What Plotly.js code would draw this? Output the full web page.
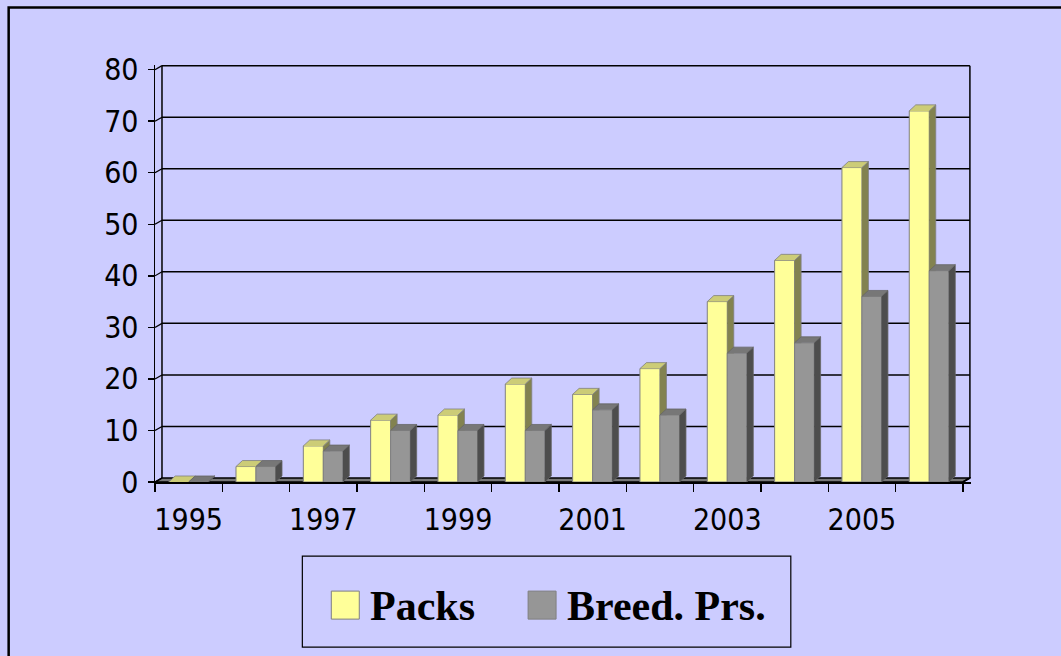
<!DOCTYPE html>
<html><head><meta charset="utf-8">
<script src="https://cdn.plot.ly/plotly-3.0.1.min.js"></script>
<style>html,body{margin:0;padding:0;background:#CCCCFF;} #chart{width:1061px;height:656px;}</style>
</head><body><div id="chart"></div>
<script>
// ---- data ----
const years = ['1995','1996','1997','1998','1999','2000','2001','2002','2003','2004','2005','2006'];
const packs = [0, 3, 7, 12, 13, 19, 17, 22, 35, 43, 61, 72];
const breedPairs = [0, 3, 6, 10, 10, 10, 14, 13, 25, 27, 36, 41];
const seriesNames = ['Packs', 'Breed. Prs.'];
const yTickVals = [0, 10, 20, 30, 40, 50, 60, 70, 80];

// ---- styling / geometry ----
const W = 1061, H = 656;
const PX_CAT = 67.4, PX_UNIT = 5.15;
const LEFT = 154.5, ZERO_Y = 482;
const xMin = -0.5, xMax = 11.62, yMin = 0, yMax = 80.9;
const PW = (xMax - xMin) * PX_CAT, PH = (yMax - yMin) * PX_UNIT;
const mL = LEFT, mR = W - LEFT - PW, mB = H - ZERO_Y, mT = ZERO_Y - PH;
const dx = 6.5 / PX_CAT, dy = 6 / PX_UNIT;      // bar depth
const bx = 7 / PX_CAT, by = 4 / PX_UNIT;        // back wall offset
const wY = 0.297, wG = 0.29;
const n = years.length;
const idx = years.map((_, i) => i);

const col = {
  yFront: '#FFFF99', yTop: '#CCCC77', ySide: '#828250',
  gFront: '#969696', gTop: '#777777', gSide: '#4D4D4D', edge: '#808080'
};

function polyTrace(polys, fill, line) {
  const x = [], y = [];
  polys.forEach(p => { p.forEach(q => { x.push(q[0]); y.push(q[1]); }); x.push(null); y.push(null); });
  return {type: 'scatter', mode: 'lines', x, y, fill: 'toself', fillcolor: fill,
          line: {color: line, width: 0.8}, hoverinfo: 'skip', showlegend: false, connectgaps: false};
}

const ySides = [], yTops = [], gSides = [], gTops = [];
for (let i = 0; i < n; i++) {
  const v = packs[i], g = breedPairs[i];
  const a0 = i - wY, a1 = i;
  const b0 = i, b1 = i + wG;
  if (v > g) {
    ySides.push([[a1, Math.max(g, 0)], [a1 + dx, Math.max(g, dy)], [a1 + dx, v + dy], [a1, v]]);
  }
  yTops.push([[a0, v], [a0 + dx, v + dy], [a1 + dx, v + dy], [a1, v]]);
  gSides.push([[b1, 0], [b1 + dx, dy], [b1 + dx, g + dy], [b1, g]]);
  gTops.push([[b0, g], [b0 + dx, g + dy], [b1 + dx, g + dy], [b1, g]]);
}

const data = [
  {type: 'bar', x: idx, y: packs, name: seriesNames[0], width: wY, offset: -wY,
   marker: {color: col.yFront, line: {color: col.edge, width: 1}}, showlegend: false},
  {type: 'bar', x: idx, y: breedPairs, name: seriesNames[1], width: wG, offset: 0,
   marker: {color: col.gFront, line: {color: col.edge, width: 1}}, showlegend: false},
  polyTrace(ySides, col.ySide, col.edge),
  polyTrace(yTops, col.yTop, col.edge),
  polyTrace(gSides, col.gSide, '#666666'),
  polyTrace(gTops, col.gTop, '#666666')
];

// ---- walls / grid ----
const shapes = [];
const L0 = -0.5, R0 = n - 0.5;
shapes.push({type: 'path', layer: 'below', xref: 'x', yref: 'y',
  path: `M${L0},0 L${R0},0 L${R0 + bx},${by} L${L0 + bx},${by} Z`,
  fillcolor: '#777777', line: {color: 'black', width: 1.5}});
yTickVals.forEach(v => {
  if (v > 0) shapes.push({type: 'line', layer: 'below', xref: 'x', yref: 'y',
    x0: L0 + bx, x1: R0 + bx, y0: v + by, y1: v + by, line: {color: 'black', width: 1.5}});
  shapes.push({type: 'line', layer: 'below', xref: 'x', yref: 'y',
    x0: L0, x1: L0 + bx, y0: v, y1: v + by, line: {color: 'black', width: 1.2}});
});
shapes.push({type: 'line', layer: 'below', xref: 'x', yref: 'y', x0: L0 + bx, x1: L0 + bx, y0: by, y1: 80 + by, line: {color: 'black', width: 1.5}});
shapes.push({type: 'line', layer: 'below', xref: 'x', yref: 'y', x0: R0 + bx, x1: R0 + bx, y0: by, y1: 80 + by, line: {color: 'black', width: 1.5}});
shapes.push({type: 'line', layer: 'below', xref: 'x', yref: 'y', x0: R0, x1: R0 + bx, y0: 0, y1: by, line: {color: 'black', width: 1.5}});

// pixel -> paper helpers (layout only)
const px = v => (v - mL) / PW;
const py = v => (mT + PH - v) / PH;

// outer border
shapes.push({type: 'rect', xref: 'paper', yref: 'paper', x0: px(8), x1: px(1075), y0: py(8), y1: py(670),
  line: {color: 'black', width: 2.5}, fillcolor: 'rgba(0,0,0,0)'});
// legend box
shapes.push({type: 'rect', xref: 'paper', yref: 'paper', x0: px(302), x1: px(791), y0: py(556), y1: py(647),
  line: {color: 'black', width: 1.2}, fillcolor: 'rgba(0,0,0,0)'});
shapes.push({type: 'rect', xref: 'paper', yref: 'paper', x0: px(331), x1: px(359), y0: py(591), y1: py(619),
  line: {color: col.edge, width: 1}, fillcolor: col.yFront});
shapes.push({type: 'rect', xref: 'paper', yref: 'paper', x0: px(528), x1: px(556), y0: py(591), y1: py(619),
  line: {color: col.edge, width: 1}, fillcolor: col.gFront});

const legFont = {family: "'Liberation Serif', 'Times New Roman', serif", size: 42, color: 'black', weight: 'bold'};
const annotations = [
  {xref: 'paper', yref: 'paper', x: px(368), y: py(606), xanchor: 'left', yanchor: 'middle',
   text: seriesNames[0], showarrow: false, font: legFont},
  {xref: 'paper', yref: 'paper', x: px(565), y: py(606), xanchor: 'left', yanchor: 'middle',
   text: seriesNames[1], showarrow: false, font: legFont}
];

const tickFont = {family: "'Liberation Sans Narrow', 'Arial Narrow', 'DejaVu Sans Condensed', sans-serif", size: 30, color: 'black'};

const layout = {
  width: W, height: H,
  margin: {l: mL, r: mR, t: mT, b: mB, pad: 0},
  paper_bgcolor: '#CCCCFF', plot_bgcolor: '#CCCCFF',
  showlegend: false, barmode: 'overlay',
  xaxis: {range: [xMin, xMax], tickmode: 'array',
          tickvals: idx.filter(i => i % 2 === 0), ticktext: years.filter((_, i) => i % 2 === 0),
          ticks: '', showgrid: false, zeroline: false, showline: true, linecolor: 'black', linewidth: 1.5,
          tickfont: tickFont, ticklabelstandoff: 10,
          minor: {ticks: 'outside', tickmode: 'linear', tick0: -0.5, dtick: 1, ticklen: 8, tickwidth: 1.5, tickcolor: 'black', showgrid: false}},
  yaxis: {range: [yMin, yMax], tickmode: 'array', tickvals: yTickVals,
          ticks: 'outside', ticklen: 6, tickwidth: 1.5, tickcolor: 'black',
          showgrid: false, zeroline: false, showline: true, linecolor: 'black', linewidth: 1.5,
          tickfont: tickFont, ticklabelstandoff: 3},
  shapes, annotations
};

Plotly.newPlot('chart', data, layout, {displayModeBar: false, staticPlot: true});
</script>
</body></html>
